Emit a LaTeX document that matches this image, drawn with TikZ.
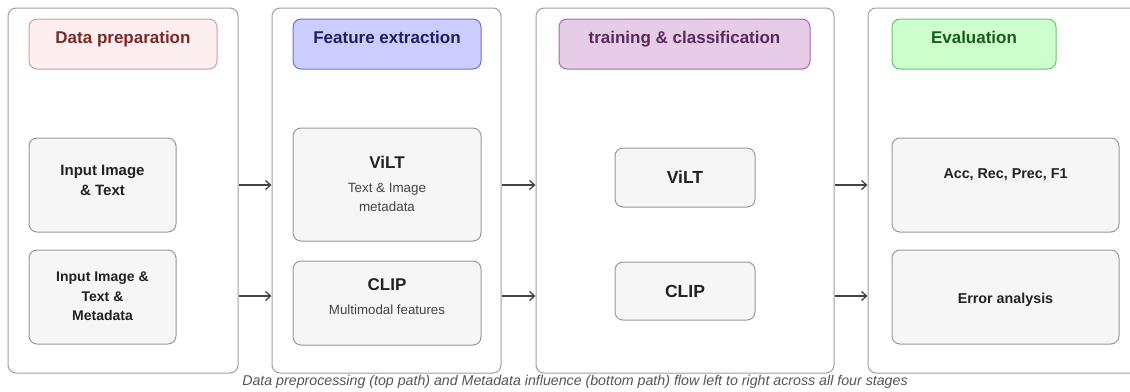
\documentclass[tikz,border=0pt]{standalone}
\usepackage{fontspec}
\setmainfont{Liberation Sans}
\usetikzlibrary{arrows.meta}
\definecolor{panelgray}{HTML}{A0A0A0}
\definecolor{boxgray}{HTML}{999999}
\definecolor{boxfill}{HTML}{F6F6F6}
\definecolor{textdark}{HTML}{222222}
\definecolor{subtext}{HTML}{444444}
\definecolor{arrowgray}{HTML}{444444}
\definecolor{capgray}{HTML}{555555}
\definecolor{hAfill}{HTML}{FDEFF0}\definecolor{hAdraw}{HTML}{D99A9A}\definecolor{hAtext}{HTML}{7A2A2A}
\definecolor{hBfill}{HTML}{CCCCFF}\definecolor{hBdraw}{HTML}{6F6FCF}\definecolor{hBtext}{HTML}{20205C}
\definecolor{hCfill}{HTML}{E6CCE6}\definecolor{hCdraw}{HTML}{A868A8}\definecolor{hCtext}{HTML}{5A2A5A}
\definecolor{hDfill}{HTML}{CCFFCC}\definecolor{hDdraw}{HTML}{6CBF6C}\definecolor{hDtext}{HTML}{1E5A1E}
\newcommand{\fs}[1]{\fontsize{#1}{#1}\selectfont}
% put content with its (first) baseline #1 above the node centre
\newcommand{\place}[2]{\raisebox{#1}[0pt][0pt]{#2}}
\begin{document}
\begin{tikzpicture}[x=1pt,y=-1pt,
  panel/.style={draw=panelgray, fill=white, rounded corners=8pt, line width=1pt, inner sep=0pt},
  hdr/.style={rounded corners=8pt, line width=1pt, inner sep=0pt, minimum height=50pt,
    font=\fontsize{17}{20}\selectfont\bfseries},
  box/.style={draw=boxgray, fill=boxfill, rounded corners=8pt, line width=1pt, inner sep=0pt,
    align=center, text=textdark},
  arr/.style={draw=arrowgray, line width=1.3pt, -{Straight Barb[length=5pt,width=9pt,line width=1.3pt]}},
  caption/.style={text=capgray, font=\fontsize{14.2}{17}\selectfont\itshape, inner sep=0pt}]
\clip (0,0) rectangle (1130,391);
\fill[white] (0,0) rectangle (1130,391);

% panels
\node[panel, minimum width=230pt, minimum height=365pt] (p1) at (123,190.5) {};
\node[panel, minimum width=229pt, minimum height=365pt] (p2) at (386.5,190.5) {};
\node[panel, minimum width=298pt, minimum height=365pt] (p3) at (685,190.5) {};
\node[panel, minimum width=292pt, minimum height=365pt] (p4) at (1014,190.5) {};

% headers
\node[hdr, fill=hAfill, draw=hAdraw, text=hAtext, minimum width=188pt] (h1) at (123,44) {\place{0.5pt}{Data preparation}};
\node[hdr, fill=hBfill, draw=hBdraw, text=hBtext, minimum width=188pt] (h2) at (387,44) {\place{0.5pt}{Feature extraction}};
\node[hdr, fill=hCfill, draw=hCdraw, text=hCtext, minimum width=251pt] (h3) at (684.5,44) {\place{0.5pt}{training \& classification}};
\node[hdr, fill=hDfill, draw=hDdraw, text=hDtext, minimum width=164pt] (h4) at (974,44) {\place{0.5pt}{Evaluation}};

% stage 1
\node[box, minimum width=147pt, minimum height=94pt, font=\fontsize{15}{20}\selectfont\bfseries] (b1a) at (102.5,185)
  {\place{9.5pt}{\begin{tabular}[t]{@{}c@{}}Input Image\\\& Text\end{tabular}}};
\node[box, minimum width=147pt, minimum height=94pt, font=\fontsize{14}{19.5}\selectfont\bfseries] (b1b) at (102.5,297)
  {\place{15.5pt}{\begin{tabular}[t]{@{}c@{}}Input Image \&\\Text \&\\Metadata\end{tabular}}};

% stage 2
\node[box, minimum width=188pt, minimum height=113pt, font=\fontsize{13.4}{19}\selectfont] (b2a) at (387,184.5)
  {\place{16.5pt}{\begin{tabular}[t]{@{}c@{}}{\fs{17}\bfseries ViLT}\\[5pt]
   {\color{subtext}Text \& Image}\\{\color{subtext}metadata}\end{tabular}}};
\node[box, minimum width=188pt, minimum height=84pt, font=\fontsize{13.3}{24}\selectfont] (b2b) at (387,303)
  {\place{13pt}{\begin{tabular}[t]{@{}c@{}}{\fs{17}\bfseries CLIP}\\
   {\color{subtext}Multimodal features}\end{tabular}}};

% stage 3
\node[box, minimum width=140pt, minimum height=59pt, font=\fontsize{17.5}{20}\selectfont\bfseries] (b3a) at (685,177.5) {ViLT};
\node[box, minimum width=140pt, minimum height=58pt, font=\fontsize{17.5}{20}\selectfont\bfseries] (b3b) at (685,291) {CLIP};

% stage 4
\node[box, minimum width=227pt, minimum height=94pt, font=\fontsize{14.3}{17}\selectfont\bfseries] (b4a) at (1005.5,185)
  {\place{7pt}{Acc, Rec, Prec, F1}};
\node[box, minimum width=227pt, minimum height=94pt, font=\fontsize{14.3}{17}\selectfont\bfseries] (b4b) at (1005.5,297)
  {\place{-6pt}{Error analysis}};

% connectors
\coordinate (top) at (0,185);
\coordinate (bot) at (0,296);
\draw[arr] (p1.east |- top) -- (p2.west |- top);
\draw[arr] (p1.east |- bot) -- (p2.west |- bot);
\draw[arr] (p2.east |- top) -- (p3.west |- top);
\draw[arr] (p2.east |- bot) -- (p3.west |- bot);
\draw[arr] (p3.east |- top) -- (p4.west |- top);
\draw[arr] (p3.east |- bot) -- (p4.west |- bot);

% caption
\node[caption] (cap) at (575,382) {Data preprocessing (top path) and Metadata influence (bottom path) flow left to right across all four stages};
\end{tikzpicture}
\end{document}
